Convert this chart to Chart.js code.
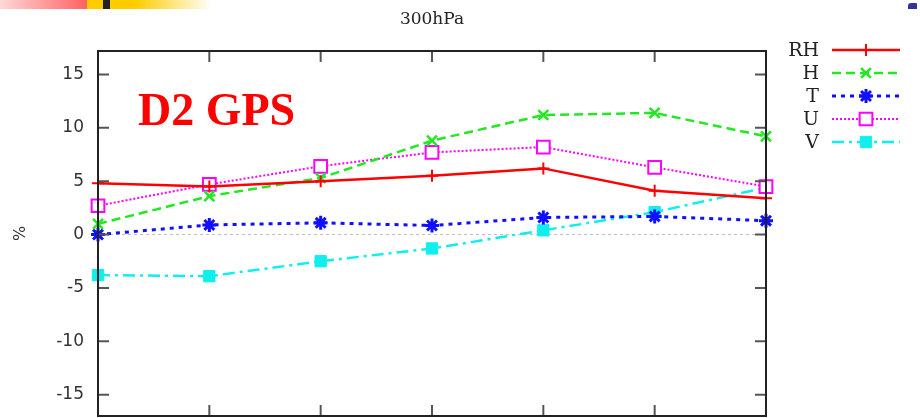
<!DOCTYPE html>
<html>
<head>
<meta charset="utf-8">
<title>300hPa</title>
<script src="https://cdn.jsdelivr.net/npm/chart.js@4.4.1/dist/chart.umd.min.js"></script>
<style>
  html, body { margin: 0; padding: 0; background: #fff; }
  .wrap { position: relative; width: 920px; height: 418px; overflow: hidden; }
  /* slide decorations */
  .bar { position: absolute; left: 0; top: 0; width: 215px; height: 9px;
         background: linear-gradient(to right, #ffd8d8 0px, #ff6262 87px, #ffcc00 87px, #ffcc00 135px, rgba(255,255,255,0) 212px); }
  .bar-dark { position: absolute; left: 103px; top: 0; width: 7px; height: 9px; background: #222; }
  .blob { position: absolute; left: 908px; top: 3px; width: 9px; height: 6px; background: #333399; border-radius: 3px 1px 0 0; }
</style>
</head>
<body>
<div class="wrap">
  <canvas id="chart" width="920" height="418"></canvas>
  <div class="bar"></div>
  <div class="bar-dark"></div>
  <div class="blob"></div>
</div>
<script>
// values
const categories = ['1', '2', '3', '4', '5', '6', '7'];
const rhValues = [4.8, 4.5, 5.0, 5.5, 6.2, 4.1, 3.4];
const hValues = [1.0, 3.6, 5.3, 8.8, 11.2, 11.4, 9.2];
const tValues = [0.0, 0.9, 1.1, 0.85, 1.6, 1.7, 1.3];
const uValues = [2.7, 4.7, 6.4, 7.7, 8.2, 6.3, 4.5];
const vValues = [-3.8, -3.9, -2.5, -1.3, 0.4, 2.1, 4.4];
const yTicks = [-15, -10, -5, 0, 5, 10, 15];

const datasets = [
  { label: 'RH', data: rhValues, borderColor: '#ff0000', backgroundColor: '#ff0000',
    borderWidth: 2.5, borderDash: [], pointStyle: 'cross', pointRadius: 6, pointBorderWidth: 2 },
  { label: 'H', data: hValues, borderColor: '#22e822', backgroundColor: '#22e822',
    borderWidth: 2.5, borderDash: [9, 5], pointStyle: 'crossRot', pointRadius: 7, pointBorderWidth: 2.5 },
  { label: 'T', data: tValues, borderColor: '#1010ff', backgroundColor: '#1010ff',
    borderWidth: 3, borderDash: [4, 5], pointStyle: 'star', pointRadius: 7, pointBorderWidth: 3 },
  { label: 'U', data: uValues, borderColor: '#ff00ff', backgroundColor: '#ffffff',
    borderWidth: 2, borderDash: [2, 2], pointStyle: 'rect', pointRadius: 9, pointBorderWidth: 2 },
  { label: 'V', data: vValues, borderColor: '#11eeee', backgroundColor: '#11eeee',
    borderWidth: 2.5, borderDash: [12, 5, 3, 5], pointStyle: 'rect', pointRadius: 8, pointBorderWidth: 1 }
];
datasets.forEach(ds => {
  ds.pointBorderColor = ds.borderColor;
  ds.pointBackgroundColor = ds.backgroundColor;
  ds.fill = false;
  ds.tension = 0;
  ds.clip = false;
});

// gnuplot style frame, inward ticks, zero axis, legend and the "D2 GPS" label
const gnuplotFrame = {
  id: 'gnuplotFrame',
  beforeDatasetsDraw(chart) {
    const { ctx, chartArea: a, scales } = chart;
    const y0 = scales.y.getPixelForValue(0);
    ctx.save();
    ctx.strokeStyle = '#bbbbbb';
    ctx.lineWidth = 1;
    ctx.setLineDash([3, 3]);
    ctx.beginPath();
    ctx.moveTo(a.left, y0);
    ctx.lineTo(a.right, y0);
    ctx.stroke();
    ctx.restore();
  },
  afterDraw(chart) {
    const { ctx, chartArea: a, scales } = chart;
    ctx.save();
    ctx.setLineDash([]);
    // ticks
    ctx.strokeStyle = '#555';
    ctx.lineWidth = 2;
    ctx.beginPath();
    yTicks.forEach(v => {
      const y = scales.y.getPixelForValue(v);
      ctx.moveTo(a.left, y); ctx.lineTo(a.left + 11, y);
      ctx.moveTo(a.right, y); ctx.lineTo(a.right - 11, y);
    });
    categories.forEach((c, i) => {
      const x = scales.x.getPixelForValue(i);
      ctx.moveTo(x, a.top); ctx.lineTo(x, a.top + 11);
      ctx.moveTo(x, a.bottom); ctx.lineTo(x, a.bottom - 11);
    });
    ctx.stroke();
    // frame
    ctx.strokeStyle = '#222';
    ctx.lineWidth = 2;
    ctx.strokeRect(a.left, a.top, a.right - a.left, a.bottom - a.top);

    // legend
    chart.data.datasets.forEach((ds, i) => {
      const y = 50 + i * 23;
      ctx.fillStyle = '#222';
      ctx.font = '19px "DejaVu Serif"';
      ctx.textAlign = 'right';
      ctx.textBaseline = 'middle';
      ctx.fillText(ds.label, 819, y + 1);
      ctx.strokeStyle = ds.borderColor;
      ctx.lineWidth = ds.borderWidth;
      ctx.setLineDash(ds.borderDash);
      ctx.beginPath();
      ctx.moveTo(832, y);
      ctx.lineTo(900, y);
      ctx.stroke();
      ctx.setLineDash([]);
      ctx.fillStyle = ds.pointBackgroundColor;
      ctx.strokeStyle = ds.pointBorderColor;
      ctx.lineWidth = ds.pointBorderWidth;
      Chart.helpers.drawPoint(ctx, {
        pointStyle: ds.pointStyle, rotation: 0,
        radius: ds.pointRadius, borderWidth: ds.pointBorderWidth
      }, 866, y);
    });

    // big red label
    ctx.fillStyle = '#ff0000';
    ctx.font = 'bold 46px "Liberation Serif"';
    ctx.textAlign = 'left';
    ctx.textBaseline = 'alphabetic';
    ctx.fillText('D2 GPS', 138, 125);
    ctx.restore();
  }
};

Chart.defaults.color = '#222';

new Chart(document.getElementById('chart'), {
  type: 'line',
  data: { labels: categories, datasets: datasets },
  options: {
    responsive: false,
    animation: false,
    devicePixelRatio: 1,
    // no auto padding for point radius, the plot runs to the bottom edge
    layout: { autoPadding: false, padding: { left: 0, right: 154, top: 0, bottom: 0 } },
    plugins: {
      legend: { display: false },
      tooltip: { enabled: false },
      title: {
        display: true,
        text: '300hPa',
        fullSize: false,
        color: '#222',
        font: { family: '"DejaVu Serif"', size: 17, weight: 'normal' },
        padding: { top: 9, bottom: 21.6 }
      }
    },
    scales: {
      x: {
        offset: false,
        ticks: { display: false },
        grid: { drawOnChartArea: false, drawTicks: false },
        border: { display: false },
        afterFit(scale) { scale.height = 2; }
      },
      y: {
        min: -17,
        max: 17.2,
        afterBuildTicks(scale) { scale.ticks = yTicks.map(v => ({ value: v })); },
        ticks: { padding: 14, color: '#333', font: { family: '"DejaVu Sans"', size: 17 } },
        grid: { drawOnChartArea: false, drawTicks: false },
        border: { display: false },
        title: {
          display: true, text: '%', color: '#333',
          font: { family: '"DejaVu Sans"', size: 16 },
          padding: { top: 11, bottom: 0 }
        },
        afterFit(scale) {
          scale.width = 98;
          scale.paddingTop = 0;
          scale.paddingBottom = 0;
        }
      }
    }
  },
  plugins: [gnuplotFrame]
});
</script>
</body>
</html>
